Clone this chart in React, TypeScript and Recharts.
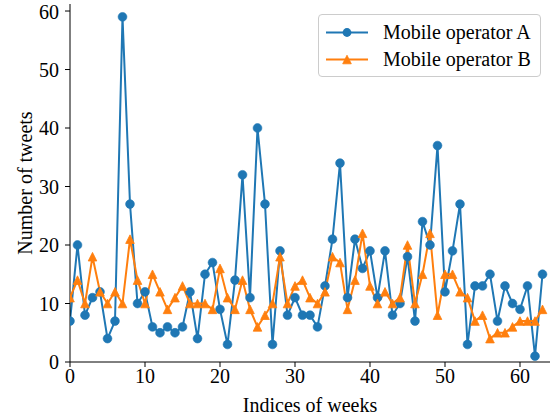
import React from 'react';
import { LineChart, Line, XAxis, YAxis, Legend } from 'recharts';

const operatorA = [
  7, 20, 8, 11, 12, 4, 7, 59, 27, 10, 12, 6, 5, 6, 5, 6,
  12, 4, 15, 17, 9, 3, 14, 32, 11, 40, 27, 3, 19, 8, 11, 8,
  8, 6, 13, 21, 34, 11, 21, 16, 19, 11, 19, 8, 10, 18, 7, 24,
  20, 37, 12, 19, 27, 3, 13, 13, 15, 7, 13, 10, 9, 13, 1, 15,
];
const operatorB = [
  11, 14, 10, 18, 12, 10, 12, 10, 21, 14, 10, 15, 12, 9, 11, 13,
  10, 10, 10, 9, 16, 11, 9, 14, 9, 6, 8, 10, 18, 10, 13, 14,
  11, 10, 12, 18, 17, 9, 14, 22, 13, 10, 12, 10, 11, 20, 10, 15,
  22, 8, 15, 15, 12, 11, 7, 8, 4, 5, 5, 6, 7, 7, 7, 9,
];
const xTicks = [0, 10, 20, 30, 40, 50, 60];
const yTicks = [0, 10, 20, 30, 40, 50, 60];
const seriesNames = ['Mobile operator A', 'Mobile operator B'];
const xLabel = 'Indices of weeks';
const yLabel = 'Number of tweets';

const BLUE = '#1f77b4';
const ORANGE = '#ff7f0e';
const FONT = '"Liberation Serif", "Times New Roman", serif';
const FS = 20;

const data = operatorA.map((a, i) => ({ week: i, a, b: operatorB[i] }));

const CircleDot = (props: any) => {
  const { cx, cy, index } = props;
  if (cx == null || cy == null) return <g key={`ca-${index}`} />;
  return <circle key={`ca-${index}`} cx={cx} cy={cy} r={4.4} fill={BLUE} stroke={BLUE} strokeWidth={0.6} />;
};

const triPoints = (cx: number, cy: number, h: number) =>
  `${cx},${cy - h} ${cx - h},${cy + h} ${cx + h},${cy + h}`;

const TriDot = (props: any) => {
  const { cx, cy, index } = props;
  if (cx == null || cy == null) return <g key={`tb-${index}`} />;
  return (
    <polygon key={`tb-${index}`} points={triPoints(cx, cy, 4.3)} fill={ORANGE} stroke={ORANGE} strokeWidth={0.8} strokeLinejoin="miter" />
  );
};

const LegendBox = () => (
  <div
    style={{
      boxSizing: 'border-box',
      width: 223,
      height: 63,
      border: '1px solid #cccccc',
      borderRadius: 4,
      background: 'rgba(255,255,255,0.8)',
      paddingTop: 3.5,
      fontFamily: FONT,
      fontSize: FS,
      color: '#000',
    }}
  >
    {seriesNames.map((name, i) => (
      <div key={name} style={{ display: 'flex', alignItems: 'center', height: 27 }}>
        <svg width={42} height={27} style={{ marginLeft: 7, display: 'block' }}>
          <line x1={0} y1={13.5} x2={42} y2={13.5} stroke={i === 0 ? BLUE : ORANGE} strokeWidth={2} />
          {i === 0 ? (
            <circle cx={21} cy={13.5} r={4.4} fill={BLUE} />
          ) : (
            <polygon points={triPoints(21, 13.5, 4.3)} fill={ORANGE} stroke={ORANGE} strokeWidth={0.8} />
          )}
        </svg>
        <span style={{ marginLeft: 15, lineHeight: '27px', whiteSpace: 'nowrap' }}>{name}</span>
      </div>
    ))}
  </div>
);

const XLabel = (props: any) => {
  const vb = props.viewBox || { x: 70, y: 362, width: 480, height: 55 };
  return (
    <text x={vb.x + vb.width / 2} y={vb.y + 50} textAnchor="middle" fontFamily={FONT} fontSize={FS} fill="#000">
      {xLabel}
    </text>
  );
};

const YLabel = (props: any) => {
  const vb = props.viewBox || { x: 10, y: 4, width: 60, height: 358 };
  const x = vb.x + 22;
  const y = vb.y + vb.height / 2;
  return (
    <text x={x} y={y} transform={`rotate(-90, ${x}, ${y})`} textAnchor="middle" fontFamily={FONT} fontSize={FS} fill="#000">
      {yLabel}
    </text>
  );
};

export default function App() {
  return (
    <div style={{ position: 'absolute', left: 0, top: 0, width: 550, height: 417, background: '#fff' }}>
      <LineChart width={550} height={417} data={data} margin={{ top: 4, right: 0, bottom: 0, left: 10 }}>
        <XAxis
          dataKey="week"
          type="number"
          domain={[0, 64]}
          ticks={xTicks}
          allowDataOverflow
          height={55}
          tickSize={5}
          tickMargin={2}
          axisLine={{ stroke: '#000', strokeWidth: 1 }}
          tickLine={{ stroke: '#000', strokeWidth: 1 }}
          tick={{ fill: '#000', fontSize: FS, fontFamily: FONT }}
          label={<XLabel />}
        />
        <XAxis
          xAxisId="top"
          orientation="top"
          dataKey="week"
          type="number"
          domain={[0, 64]}
          height={0}
          tick={false}
          tickLine={false}
          axisLine={{ stroke: '#000', strokeWidth: 1 }}
        />
        <YAxis
          type="number"
          domain={[0, 61.2]}
          ticks={yTicks}
          allowDataOverflow
          width={60}
          tickSize={5}
          tickMargin={6}
          axisLine={{ stroke: '#000', strokeWidth: 1 }}
          tickLine={{ stroke: '#000', strokeWidth: 1 }}
          tick={{ fill: '#000', fontSize: FS, fontFamily: FONT }}
          label={<YLabel />}
        />
        <Legend
          layout="vertical"
          align="center"
          verticalAlign="middle"
          width={223}
          height={63}
          wrapperStyle={{ left: 318, top: 14, width: 223, height: 63 }}
          content={() => <LegendBox />}
        />
        <Line
          dataKey="a"
          name={seriesNames[0]}
          stroke={BLUE}
          strokeWidth={2}
          dot={CircleDot}
          activeDot={false}
          isAnimationActive={false}
          type="linear"
        />
        <Line
          dataKey="b"
          name={seriesNames[1]}
          stroke={ORANGE}
          strokeWidth={2}
          dot={TriDot}
          activeDot={false}
          isAnimationActive={false}
          type="linear"
        />
      </LineChart>
    </div>
  );
}
